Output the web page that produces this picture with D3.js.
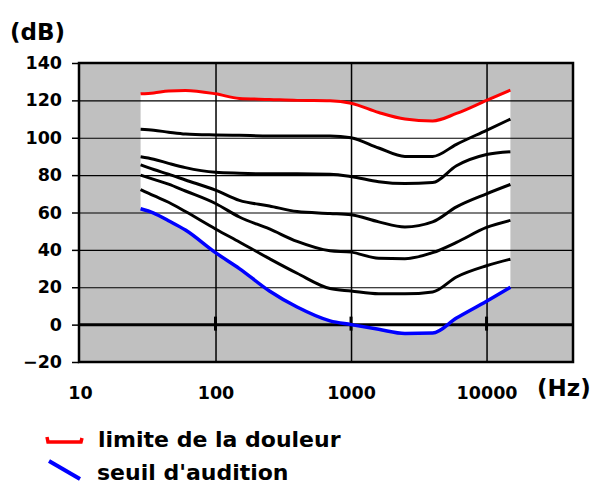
<!DOCTYPE html>
<html>
<head>
<meta charset="utf-8">
<script src="https://cdn.jsdelivr.net/npm/d3@7"></script>
<style>
  body { margin: 0; background: #fff; }
  text { font-family: "DejaVu Sans", sans-serif; font-weight: bold; fill: #000; }
</style>
</head>
<body>
<div id="chart"></div>
<script>
var freqs = [28, 35, 45, 60, 100, 150, 250, 400, 700, 1000, 1600, 2500, 4000, 6000, 10000, 15000];

// limite de la douleur (red)
var painDb = [123.5, 124, 125, 125.3, 123.5, 121, 120.5, 120, 119.8, 118.5, 113.5, 110, 109, 113, 120, 125.5];
// isosonic curves (black)
var phon100 = [104.5, 104, 103, 102, 101.5, 101.3, 101, 101, 101, 100, 94.5, 90, 90, 96.5, 104, 110];
var phon80 = [89.8, 88.5, 86.3, 84, 81.5, 81, 80.7, 80.7, 80.5, 79.3, 76.5, 75.5, 76, 85, 91, 92.5];
var phon60 = [85.5, 83, 80.5, 77.4, 72, 66.5, 63.5, 60.5, 59.5, 58.8, 55, 52.3, 55, 63, 70, 75];
var phon40 = [80, 77.7, 75.2, 71.5, 64.8, 57.6, 51.2, 44.5, 39.5, 38.8, 35.5, 35.3, 38.5, 44, 52, 55.8];
var phon20 = [72.3, 69, 65.5, 60.5, 51.2, 44.2, 35.3, 27.5, 19.3, 18, 16.5, 16.5, 17.5, 25.5, 31.5, 35];
// seuil d'audition (blue)
var hearDb = [62, 59.7, 55.6, 50.6, 38.5, 30, 18, 9.4, 2, 0, -2.5, -4.7, -4.5, 3.5, 12.5, 20];

// axis ticks
var dbTicks = [-20, 0, 20, 40, 60, 80, 100, 120, 140];
var hzTicks = [10, 100, 1000, 10000];
var hzGrid = [100, 1000, 10000];

var svgWidth = 596;
var svgHeight = 484;

var svg = d3.select("#chart").append("svg")
    .attr("width", svgWidth)
    .attr("height", svgHeight);

// plot frame
var plotLeft = 79, plotRight = 573, plotTop = 63, plotBottom = 362;

var xScale = d3.scaleLog()
    .domain([10, 43450])
    .range([80, plotRight]);
var yScale = d3.scaleLinear()
    .domain([-20, 140])
    .range([plotBottom, plotTop]);

// gray background
svg.append("rect")
    .attr("x", plotLeft).attr("y", plotTop)
    .attr("width", plotRight - plotLeft).attr("height", plotBottom - plotTop)
    .attr("fill", "#c0c0c0");

// white zone between pain limit and hearing threshold
var zone = freqs.map((f, i) => ({f: f, lo: hearDb[i], hi: painDb[i]}));
svg.append("path")
    .datum(zone)
    .attr("fill", "#fff")
    .attr("d", d3.area()
        .x(d => xScale(d.f))
        .y0(d => yScale(d.lo))
        .y1(d => yScale(d.hi))
        .curve(d3.curveMonotoneX));

// gridlines
svg.append("g")
    .attr("transform", `translate(${plotLeft}, 0)`)
    .call(d3.axisLeft(yScale).tickValues(dbTicks).tickSize(-(plotRight - plotLeft)).tickFormat(""))
    .call(g => g.select(".domain").remove())
    .selectAll("line").attr("stroke", "#000").attr("stroke-width", 1.2);

svg.append("g")
    .attr("transform", `translate(0, ${plotBottom})`)
    .call(d3.axisBottom(xScale).tickValues(hzGrid).tickSize(-(plotBottom - plotTop)).tickFormat(""))
    .call(g => g.select(".domain").remove())
    .selectAll("line").attr("stroke", "#000").attr("stroke-width", 1.5);

// 0 dB line, thicker, with small ticks
svg.append("line")
    .attr("x1", plotLeft).attr("x2", plotRight)
    .attr("y1", yScale(0)).attr("y2", yScale(0))
    .attr("stroke", "#000").attr("stroke-width", 3);

svg.selectAll(".zeroTick")
    .data(hzGrid)
    .enter()
    .append("line")
    .attr("x1", d => xScale(d)).attr("x2", d => xScale(d))
    .attr("y1", yScale(0) - 8).attr("y2", yScale(0) + 6)
    .attr("stroke", "#000").attr("stroke-width", 3);

// curves
var line = d3.line()
    .x((d, i) => xScale(freqs[i]))
    .y(d => yScale(d))
    .curve(d3.curveMonotoneX);

var curves = [
    {v: phon100, c: "#000", w: 3},
    {v: phon80, c: "#000", w: 3},
    {v: phon60, c: "#000", w: 3},
    {v: phon40, c: "#000", w: 3},
    {v: phon20, c: "#000", w: 3},
    {v: painDb, c: "#ff0000", w: 3},
    {v: hearDb, c: "#0000ff", w: 3.5}
];

svg.selectAll(".curve")
    .data(curves)
    .enter()
    .append("path")
    .attr("fill", "none")
    .attr("stroke", d => d.c)
    .attr("stroke-width", d => d.w)
    .attr("d", d => line(d.v));

// frame
svg.append("rect")
    .attr("x", plotLeft).attr("y", plotTop)
    .attr("width", plotRight - plotLeft).attr("height", plotBottom - plotTop)
    .attr("fill", "none")
    .attr("stroke", "#000").attr("stroke-width", 2.5);

// y axis with outside ticks and labels
var yAxis = svg.append("g")
    .attr("transform", `translate(${plotLeft}, 0)`)
    .call(d3.axisLeft(yScale).tickValues(dbTicks).tickSize(7).tickPadding(10));
yAxis.select(".domain").remove();
yAxis.selectAll("line").attr("stroke", "#000").attr("stroke-width", 1.5);
yAxis.selectAll("text")
    .attr("fill", "#000")
    .style("font-size", "17.5px");

// x axis labels
var xAxis = svg.append("g")
    .attr("transform", `translate(0, ${plotBottom})`)
    .call(d3.axisBottom(xScale).tickValues(hzTicks).tickSize(0).tickPadding(25).tickFormat(d3.format("d")));
xAxis.select(".domain").remove();
xAxis.selectAll("text")
    .attr("fill", "#000")
    .style("font-size", "17.5px");

// units
svg.append("text")
    .attr("x", 10).attr("y", 40)
    .style("font-size", "23px")
    .text("(dB)");

svg.append("text")
    .attr("x", 537).attr("y", 396)
    .style("font-size", "23px")
    .text("(Hz)");

// legend
svg.append("path")
    .attr("d", "M47,437 L48,442 L81,442 L82,438")
    .attr("fill", "none")
    .attr("stroke", "#ff0000")
    .attr("stroke-width", 3.5);
svg.append("text")
    .attr("x", 98).attr("y", 447)
    .style("font-size", "22px")
    .text("limite de la douleur");

svg.append("line")
    .attr("x1", 49).attr("y1", 461)
    .attr("x2", 80).attr("y2", 479)
    .attr("stroke", "#0000ff")
    .attr("stroke-width", 4);
svg.append("text")
    .attr("x", 97).attr("y", 480)
    .style("font-size", "22px")
    .text("seuil d'audition");
</script>
</body>
</html>
